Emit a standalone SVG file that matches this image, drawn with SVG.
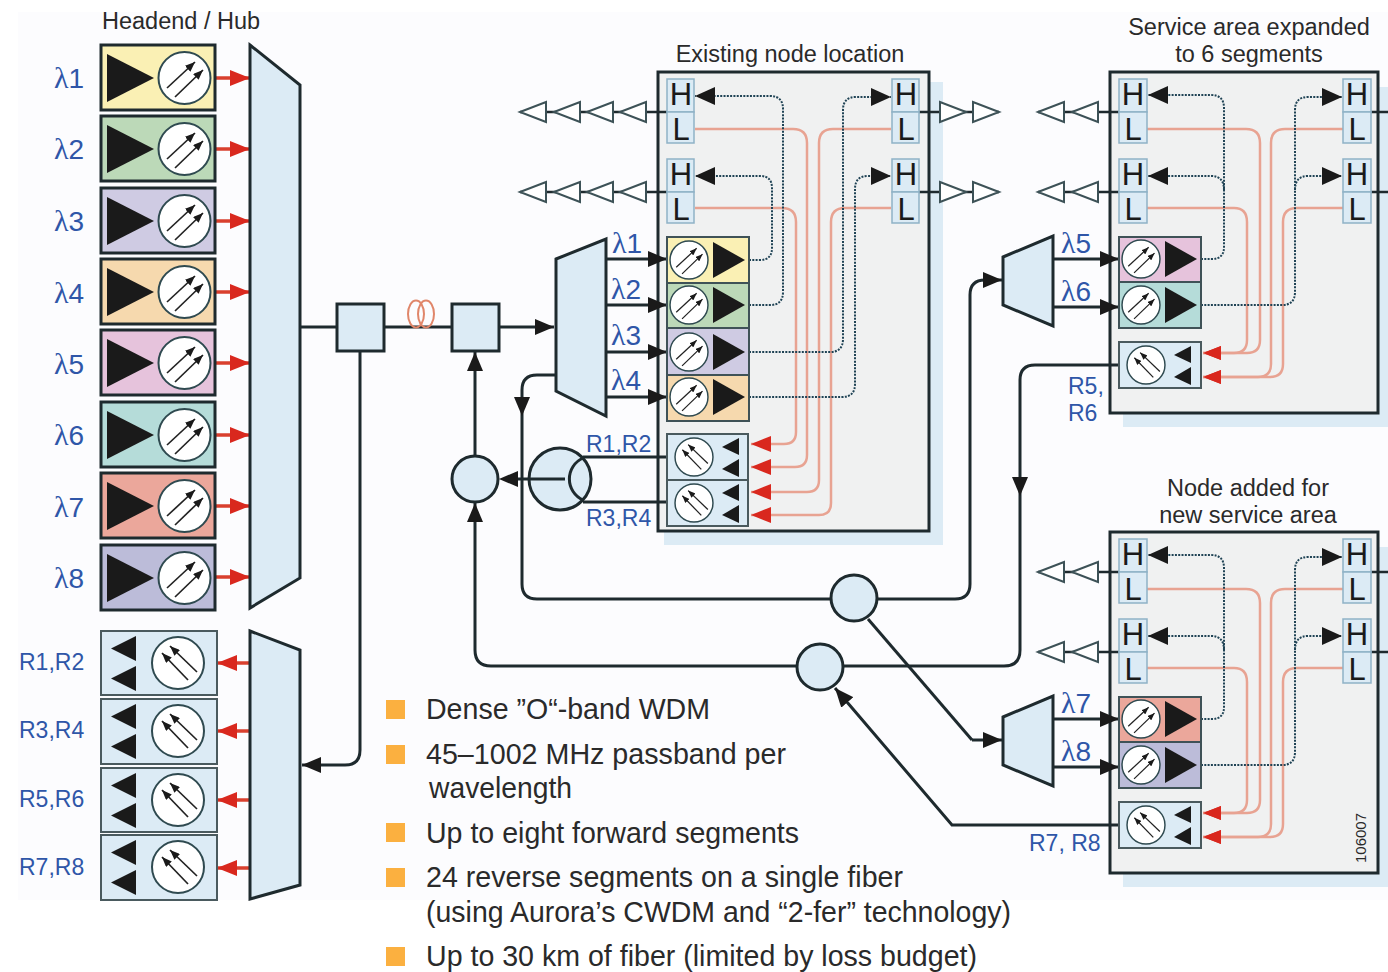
<svg xmlns="http://www.w3.org/2000/svg" width="1388" height="972" viewBox="0 0 1388 972">
<style>
text{font-family:"Liberation Sans",Arial,sans-serif}
.t{font-size:23.5px;fill:#2a2a2a}
.c{text-anchor:middle}
.b{font-size:23px;fill:#2f56a8}
.l{font-size:28px;fill:#2f56a8}
.g{font-family:"Liberation Serif",serif;font-size:30px}
.hl{font-size:31px;fill:#1a1a1a;text-anchor:middle}
.bt{font-size:29px;fill:#2a2a2a}
.bu{fill:#fbb040}
.panel{fill:#f0f1f1;stroke:#1e2a2e;stroke-width:3}
.sh{fill:#dcebf5}
.blue{fill:#dcebf5;stroke:#1e2a2e;stroke-width:3;stroke-linejoin:miter}
.hb{fill:#dcebf5;stroke:#8fb2c6;stroke-width:1.5}
.tx{stroke:#1e2a2e;stroke-width:3}
.txs{stroke:#3f5257;stroke-width:2}
.rx{fill:#dcebf5;stroke:#4a5a5e;stroke-width:2}
.k{fill:none;stroke:#1e2a2e;stroke-width:3}
.kt{fill:none;stroke:#1e2a2e;stroke-width:2.5}
.d{fill:none;stroke:#1f4355;stroke-width:2;stroke-dasharray:2 1.3}
.r{fill:none;stroke:#e8a392;stroke-width:2.5}
.rt{fill:none;stroke:#d9402e;stroke-width:3.5}
.ah{marker-end:url(#ak)}
.dh{marker-end:url(#ad)}
.rh{marker-end:url(#ar)}
.rb{marker-end:url(#arb)}
.tri{fill:#fff;stroke:#3d5257;stroke-width:2;stroke-linejoin:miter}
.ia{fill:none;stroke:#222;stroke-width:1.7;marker-end:url(#mi)}
</style>
<defs>
<marker id="ak" markerUnits="userSpaceOnUse" viewBox="0 0 19 16" refX="19" refY="8" markerWidth="19" markerHeight="16" orient="auto"><path d="M0,0L19,8L0,16z" fill="#1a1a1a"/></marker>
<marker id="ad" markerUnits="userSpaceOnUse" viewBox="0 0 20 18" refX="20" refY="9" markerWidth="20" markerHeight="18" orient="auto"><path d="M0,0L20,9L0,18z" fill="#1a1a1a"/></marker>
<marker id="ar" markerUnits="userSpaceOnUse" viewBox="0 0 20 16" refX="20" refY="8" markerWidth="20" markerHeight="16" orient="auto"><path d="M0,0L20,8L0,16z" fill="#d9281e"/></marker>
<marker id="arb" markerUnits="userSpaceOnUse" viewBox="0 0 18 14" refX="18" refY="7" markerWidth="18" markerHeight="14" orient="auto"><path d="M0,0L18,7L0,14z" fill="#d9281e"/></marker>
<marker id="mi" markerUnits="userSpaceOnUse" viewBox="0 0 10 8" refX="10" refY="4" markerWidth="10" markerHeight="8" orient="auto"><path d="M0,0L10,4L0,8z" fill="#1a1a1a"/></marker>
<g id="ct"><circle r="26" fill="#fff" stroke="#2f4a50" stroke-width="2"/><path class="ia" d="M-17.5,10L10.5,-16"/><path class="ia" d="M-9.5,19L18.5,-8"/></g>
<g id="cr"><circle r="26" fill="#fff" stroke="#2f4a50" stroke-width="2"/><path class="ia" d="M10,17L-16,-10"/><path class="ia" d="M19,9L-8,-17"/></g>
<g id="tb"><path d="M6,9L6,57L53,33z" fill="#1a1a1a"/><use href="#ct" transform="translate(83.5,33)"/></g>
<g id="ts"><use href="#ct" transform="translate(22,23) scale(.73)"/><path d="M46,5L46,41L78,23z" fill="#1a1a1a"/></g>
<g id="rb"><path d="M10,17.500L35,5L35,30z" fill="#1a1a1a"/><path d="M10,47.500L35,35L35,60z" fill="#1a1a1a"/><use href="#cr" transform="translate(77,32)"/></g>
<g id="rs"><use href="#cr" transform="translate(27,23) scale(.73)"/><path d="M55,13L72,4L72,21z" fill="#1a1a1a"/><path d="M55,35L72,25L72,43z" fill="#1a1a1a"/></g>
<path id="tl" d="M0,0L26,-10L26,10z" class="tri"/>
<path id="tr" d="M26,0L0,-10L0,10z" class="tri"/>
</defs>
<rect width="1388" height="972" fill="#fff"/>
<rect x="18" y="12" width="1370" height="888" fill="#fcfcfe"/>

<g id="node-panel-existing"><rect class="sh" x="664" y="82" width="279" height="463"/><rect class="panel" x="658" y="72" width="271" height="459"/></g>
<g id="node-panel-expanded"><rect class="sh" x="1123" y="87" width="265" height="340"/><rect class="panel" x="1110" y="72" width="268" height="341"/></g>
<g id="node-panel-added"><rect class="sh" x="1123" y="547" width="265" height="340"/><rect class="panel" x="1110" y="532" width="268" height="341"/></g>

<g id="connectors">
<g>
<path class="rt rh" d="M215,78H250"/><path class="rt rh" d="M215,149H250"/><path class="rt rh" d="M215,221H250"/><path class="rt rh" d="M215,292H250"/><path class="rt rh" d="M215,363H250"/><path class="rt rh" d="M215,435H250"/><path class="rt rh" d="M215,506H250"/><path class="rt rh" d="M215,577H250"/>
<path class="rt rh" d="M250,663H217"/><path class="rt rh" d="M250,731H217"/><path class="rt rh" d="M250,800H217"/><path class="rt rh" d="M250,868H217"/>
<path class="k" d="M300,327H337M384,327H452"/>
<path class="k ah" d="M499,327H554"/>
<path class="k ah" d="M360,351V750Q360,765 345,765H302"/>
<path class="k ah" d="M475,456V352"/>
<path class="k ah" d="M475,650V503"/>
<path class="k" d="M475,650Q475,666 491,666H797M843,666H1004Q1020,666 1020,650V380Q1020,365 1035,365H1119"/>
<path class="k" d="M583,457H667M583,502H667"/>
<path class="k" d="M556,375H537Q522,375 522,390V584Q522,599 537,599H831M877,599H955Q970,599 970,584V295Q970,280 985,280"/>
<path class="k ah" d="M985,280H1002"/>
<path class="k" d="M868,619L972,740"/><path class="k ah" d="M972,740H1002"/>
<path class="k ah" d="M1119,825H952L835,688"/>
<path class="k ah" d="M606,259H667"/><path class="k ah" d="M606,305H667"/><path class="k ah" d="M606,352H667"/><path class="k ah" d="M606,397H667"/>
<path class="k ah" d="M1053,259H1119"/><path class="k ah" d="M1053,307H1119"/>
<path class="k ah" d="M1053,719H1119"/><path class="k ah" d="M1053,767H1119"/>
</g>
<g id="links-existing">
<path class="r rh" d="M695,208H782Q796,208 796,222V432Q796,444 784,444H751"/>
<path class="r rh" d="M695,129H793Q807,129 807,143V455Q807,467 795,467H751"/>
<path class="r rh" d="M891,129H833Q819,129 819,143V480Q819,492 807,492H751"/>
<path class="r rh" d="M891,208H845Q831,208 831,222V503Q831,515 819,515H751"/>
<path class="d dh" d="M749,305H770Q783,305 783,292V109Q783,96 770,96H695"/>
<path class="d dh" d="M749,260H760Q772,260 772,248V188Q772,176 760,176H695"/>
<path class="d dh" d="M749,352H830Q843,352 843,339V110Q843,97 856,97H891"/>
<path class="d dh" d="M749,397H842Q855,397 855,384V189Q855,176 868,176H891"/>
</g>
<g id="links-expanded">
<path class="r rb" d="M1147,208H1234Q1247,208 1247,222V340Q1247,353 1234,353H1203"/>
<path class="r rb" d="M1147,129H1246Q1260,129 1260,143V340Q1260,353 1247,353H1203"/>
<path class="r rb" d="M1343,129H1285Q1271,129 1271,143V364Q1271,377 1258,377H1203"/>
<path class="r rb" d="M1343,208H1297Q1283,208 1283,222V364Q1283,377 1270,377H1203"/>
<path class="d dh" d="M1201,259H1212Q1224,259 1224,247V108Q1224,95 1211,95H1148"/>
<path class="d dh" d="M1224,190Q1224,176 1211,176H1148"/>
<path class="d dh" d="M1201,305H1282Q1295,305 1295,292V110Q1295,97 1308,97H1342"/>
<path class="d dh" d="M1295,190Q1295,176 1308,176H1342"/>
</g>
<g id="links-added">
<path class="r rb" d="M1147,668H1234Q1247,668 1247,682V800Q1247,813 1234,813H1203"/>
<path class="r rb" d="M1147,589H1246Q1260,589 1260,603V800Q1260,813 1247,813H1203"/>
<path class="r rb" d="M1343,589H1285Q1271,589 1271,603V824Q1271,837 1258,837H1203"/>
<path class="r rb" d="M1343,668H1297Q1283,668 1283,682V824Q1283,837 1270,837H1203"/>
<path class="d dh" d="M1201,719H1212Q1224,719 1224,707V568Q1224,555 1211,555H1148"/>
<path class="d dh" d="M1224,650Q1224,636 1211,636H1148"/>
<path class="d dh" d="M1201,765H1282Q1295,765 1295,752V570Q1295,557 1308,557H1342"/>
<path class="d dh" d="M1295,650Q1295,636 1308,636H1342"/>
</g>
<g id="drops">
<path class="kt" d="M520,112H667M520,192H667M919,112H999M919,192H999"/>
<path class="kt" d="M1038,112H1119M1038,192H1119M1371,112H1388M1371,192H1388"/>
<path class="kt" d="M1038,572H1119M1038,652H1119M1371,572H1388M1371,652H1388"/>
</g>
</g>

<g id="amps">
<use href="#tl" x="520" y="112"/><use href="#tl" x="554" y="112"/><use href="#tl" x="587" y="112"/><use href="#tl" x="620" y="112"/>
<use href="#tl" x="520" y="192"/><use href="#tl" x="554" y="192"/><use href="#tl" x="587" y="192"/><use href="#tl" x="620" y="192"/>
<use href="#tr" x="940" y="112"/><use href="#tr" x="973" y="112"/><use href="#tr" x="940" y="192"/><use href="#tr" x="973" y="192"/>
<use href="#tl" x="1038" y="112"/><use href="#tl" x="1072" y="112"/><use href="#tl" x="1038" y="192"/><use href="#tl" x="1072" y="192"/>
<use href="#tl" x="1038" y="572"/><use href="#tl" x="1072" y="572"/><use href="#tl" x="1038" y="652"/><use href="#tl" x="1072" y="652"/>
</g>

<g id="headend">
<text class="t" x="102" y="29">Headend / Hub</text>
<g id="tx1"><rect class="tx" fill="#faf0b4" x="101" y="45" width="114" height="65"/><use href="#tb" x="101" y="45"/><text class="l" x="54" y="88"><tspan class="g">λ</tspan>1</text></g>
<g id="tx2"><rect class="tx" fill="#bcd9b8" x="101" y="116" width="114" height="65"/><use href="#tb" x="101" y="116"/><text class="l" x="54" y="159"><tspan class="g">λ</tspan>2</text></g>
<g id="tx3"><rect class="tx" fill="#cfcbe3" x="101" y="188" width="114" height="65"/><use href="#tb" x="101" y="188"/><text class="l" x="54" y="231"><tspan class="g">λ</tspan>3</text></g>
<g id="tx4"><rect class="tx" fill="#f6d9ae" x="101" y="259" width="114" height="65"/><use href="#tb" x="101" y="259"/><text class="l" x="54" y="303"><tspan class="g">λ</tspan>4</text></g>
<g id="tx5"><rect class="tx" fill="#e6c3dc" x="101" y="330" width="114" height="65"/><use href="#tb" x="101" y="330"/><text class="l" x="54" y="374"><tspan class="g">λ</tspan>5</text></g>
<g id="tx6"><rect class="tx" fill="#b5dcd9" x="101" y="402" width="114" height="65"/><use href="#tb" x="101" y="402"/><text class="l" x="54" y="445"><tspan class="g">λ</tspan>6</text></g>
<g id="tx7"><rect class="tx" fill="#eba79b" x="101" y="473" width="114" height="65"/><use href="#tb" x="101" y="473"/><text class="l" x="54" y="517"><tspan class="g">λ</tspan>7</text></g>
<g id="tx8"><rect class="tx" fill="#bcbcd9" x="101" y="545" width="114" height="65"/><use href="#tb" x="101" y="545"/><text class="l" x="54" y="588"><tspan class="g">λ</tspan>8</text></g>
<g id="mux-forward"><path class="blue" d="M250,45L300,85V578L250,608z"/></g>
<g id="rx-r1r2"><rect class="rx" x="101" y="631" width="116" height="64"/><use href="#rb" x="101" y="631"/><text class="b" x="19" y="670">R1,R2</text></g>
<g id="rx-r3r4"><rect class="rx" x="101" y="699" width="116" height="65"/><use href="#rb" x="101" y="699"/><text class="b" x="19" y="738">R3,R4</text></g>
<g id="rx-r5r6"><rect class="rx" x="101" y="768" width="116" height="64"/><use href="#rb" x="101" y="768"/><text class="b" x="19" y="807">R5,R6</text></g>
<g id="rx-r7r8"><rect class="rx" x="101" y="835" width="116" height="65"/><use href="#rb" x="101" y="835"/><text class="b" x="19" y="875">R7,R8</text></g>
<g id="mux-reverse"><path class="blue" d="M250,631L300,650V885L250,899z"/></g>
</g>

<g id="coupler-a"><rect class="blue" x="337" y="304" width="47" height="47"/></g>
<g id="fiber-coil"><ellipse cx="416" cy="314" rx="8" ry="13.500" fill="none" stroke="#e0866a" stroke-width="2"/><ellipse cx="426" cy="314" rx="8" ry="13.500" fill="none" stroke="#e0866a" stroke-width="2"/></g>
<g id="coupler-b"><rect class="blue" x="452" y="304" width="47" height="47"/></g>
<g id="combiner-a"><circle class="blue" cx="475" cy="479" r="23"/></g>
<g id="splitter"><circle class="blue" cx="560" cy="479" r="31"/><path class="k" d="M583,458A23,23 0 0 0 583,500"/><path class="k" d="M565,479H515"/><path d="M499,479L518,471L518,487z" fill="#1a1a1a"/></g>
<g id="combiner-b"><circle class="blue" cx="854" cy="598" r="23"/></g>
<g id="combiner-c"><circle class="blue" cx="820" cy="667" r="23"/></g>
<g id="demux-1"><path class="blue" d="M556,259L606,239V416L556,391z"/></g>
<g id="demux-2"><path class="blue" d="M1003,257L1053,236V326L1003,305z"/></g>
<g id="demux-3"><path class="blue" d="M1003,717L1053,696V786L1003,765z"/></g>

<g id="line-arrows"><path d="M1020,496L1012,477L1028,477z" fill="#1a1a1a"/><path d="M522,416L514,397L530,397z" fill="#1a1a1a"/></g>

<g id="existing-node">
<text class="t c" x="790" y="62">Existing node location</text>
<g id="hl-1"><rect class="hb" x="667" y="79" width="27" height="33"/><rect class="hb" x="667" y="112" width="27" height="31"/><text class="hl" x="681" y="105">H</text><text class="hl" x="681" y="140">L</text></g>
<g id="hl-2"><rect class="hb" x="667" y="159" width="27" height="33"/><rect class="hb" x="667" y="192" width="27" height="31"/><text class="hl" x="681" y="185">H</text><text class="hl" x="681" y="220">L</text></g>
<g id="hl-3"><rect class="hb" x="892" y="79" width="27" height="33"/><rect class="hb" x="892" y="112" width="27" height="31"/><text class="hl" x="906" y="105">H</text><text class="hl" x="906" y="140">L</text></g>
<g id="hl-4"><rect class="hb" x="892" y="159" width="27" height="33"/><rect class="hb" x="892" y="192" width="27" height="31"/><text class="hl" x="906" y="185">H</text><text class="hl" x="906" y="220">L</text></g>
<g id="n1-l1"><rect class="txs" fill="#faf0b4" x="667" y="237" width="82" height="46"/><use href="#ts" x="667" y="237"/><text class="l" x="612" y="253"><tspan class="g">λ</tspan>1</text></g>
<g id="n1-l2"><rect class="txs" fill="#bcd9b8" x="667" y="283" width="82" height="45"/><use href="#ts" x="667" y="282"/><text class="l" x="611" y="299"><tspan class="g">λ</tspan>2</text></g>
<g id="n1-l3"><rect class="txs" fill="#cfcbe3" x="667" y="328" width="82" height="47"/><use href="#ts" x="667" y="329"/><text class="l" x="611" y="345"><tspan class="g">λ</tspan>3</text></g>
<g id="n1-l4"><rect class="txs" fill="#f6d9ae" x="667" y="375" width="82" height="46"/><use href="#ts" x="667" y="374"/><text class="l" x="611" y="390"><tspan class="g">λ</tspan>4</text></g>
<g id="n1-r1"><rect class="rx" x="667" y="434" width="81" height="46"/><use href="#rs" x="667" y="434"/><text class="b" x="586" y="452">R1,R2</text></g>
<g id="n1-r2"><rect class="rx" x="667" y="480" width="81" height="46"/><use href="#rs" x="667" y="480"/><text class="b" x="586" y="526">R3,R4</text></g>
</g>

<g id="expanded-node">
<text class="t c" x="1249" y="35">Service area expanded</text>
<text class="t c" x="1249" y="62">to 6 segments</text>
<g id="hl-5"><rect class="hb" x="1119" y="79" width="28" height="33"/><rect class="hb" x="1119" y="112" width="28" height="31"/><text class="hl" x="1133" y="105">H</text><text class="hl" x="1133" y="140">L</text></g>
<g id="hl-6"><rect class="hb" x="1119" y="159" width="28" height="33"/><rect class="hb" x="1119" y="192" width="28" height="31"/><text class="hl" x="1133" y="185">H</text><text class="hl" x="1133" y="220">L</text></g>
<g id="hl-7"><rect class="hb" x="1343" y="79" width="28" height="33"/><rect class="hb" x="1343" y="112" width="28" height="31"/><text class="hl" x="1357" y="105">H</text><text class="hl" x="1357" y="140">L</text></g>
<g id="hl-8"><rect class="hb" x="1343" y="159" width="28" height="33"/><rect class="hb" x="1343" y="192" width="28" height="31"/><text class="hl" x="1357" y="185">H</text><text class="hl" x="1357" y="220">L</text></g>
<g id="n2-l5"><rect class="txs" fill="#e6c3dc" x="1119" y="237" width="82" height="45"/><use href="#ts" x="1119" y="236"/><text class="l" x="1061" y="253"><tspan class="g">λ</tspan>5</text></g>
<g id="n2-l6"><rect class="txs" fill="#b5dcd9" x="1119" y="282" width="82" height="46"/><use href="#ts" x="1119" y="282"/><text class="l" x="1061" y="301"><tspan class="g">λ</tspan>6</text></g>
<g id="n2-r"><rect class="rx" x="1119" y="342" width="82" height="46"/><use href="#rs" x="1119" y="342"/><text class="b" x="1068" y="394">R5,</text><text class="b" x="1068" y="421">R6</text></g>
</g>

<g id="added-node">
<text class="t c" x="1248" y="496">Node added for</text>
<text class="t c" x="1248" y="523">new service area</text>
<g id="hl-9"><rect class="hb" x="1119" y="539" width="28" height="33"/><rect class="hb" x="1119" y="572" width="28" height="31"/><text class="hl" x="1133" y="565">H</text><text class="hl" x="1133" y="600">L</text></g>
<g id="hl-10"><rect class="hb" x="1119" y="619" width="28" height="33"/><rect class="hb" x="1119" y="652" width="28" height="31"/><text class="hl" x="1133" y="645">H</text><text class="hl" x="1133" y="680">L</text></g>
<g id="hl-11"><rect class="hb" x="1343" y="539" width="28" height="33"/><rect class="hb" x="1343" y="572" width="28" height="31"/><text class="hl" x="1357" y="565">H</text><text class="hl" x="1357" y="600">L</text></g>
<g id="hl-12"><rect class="hb" x="1343" y="619" width="28" height="33"/><rect class="hb" x="1343" y="652" width="28" height="31"/><text class="hl" x="1357" y="645">H</text><text class="hl" x="1357" y="680">L</text></g>
<g id="n3-l7"><rect class="txs" fill="#eba79b" x="1119" y="697" width="82" height="45"/><use href="#ts" x="1119" y="696"/><text class="l" x="1061" y="713"><tspan class="g">λ</tspan>7</text></g>
<g id="n3-l8"><rect class="txs" fill="#bcbcd9" x="1119" y="742" width="82" height="46"/><use href="#ts" x="1119" y="742"/><text class="l" x="1061" y="761"><tspan class="g">λ</tspan>8</text></g>
<g id="n3-r"><rect class="rx" x="1119" y="802" width="82" height="46"/><use href="#rs" x="1119" y="802"/><text class="b" x="1029" y="851">R7, R8</text></g>
<text x="1366" y="863" font-size="15" fill="#2a2a2a" transform="rotate(-90 1366 863)">106007</text>
</g>

<g id="bullets">
<rect class="bu" x="386" y="700" width="19" height="19"/>
<text class="bt" x="426" y="719" textLength="284" lengthAdjust="spacingAndGlyphs">Dense ”O“-band WDM</text>
<rect class="bu" x="386" y="745" width="19" height="19"/>
<text class="bt" x="426" y="764" textLength="360" lengthAdjust="spacingAndGlyphs">45–1002 MHz passband per</text>
<text class="bt" x="429" y="798" textLength="143" lengthAdjust="spacingAndGlyphs">wavelength</text>
<rect class="bu" x="386" y="823" width="19" height="19"/>
<text class="bt" x="426" y="843" textLength="373" lengthAdjust="spacingAndGlyphs">Up to eight forward segments</text>
<rect class="bu" x="386" y="868" width="19" height="19"/>
<text class="bt" x="426" y="887" textLength="477" lengthAdjust="spacingAndGlyphs">24 reverse segments on a single fiber</text>
<text class="bt" x="426" y="922" textLength="585" lengthAdjust="spacingAndGlyphs">(using Aurora’s CWDM and “2-fer” technology)</text>
<rect class="bu" x="386" y="947" width="19" height="19"/>
<text class="bt" x="426" y="966" textLength="551" lengthAdjust="spacingAndGlyphs">Up to 30 km of fiber (limited by loss budget)</text>
</g>
</svg>
